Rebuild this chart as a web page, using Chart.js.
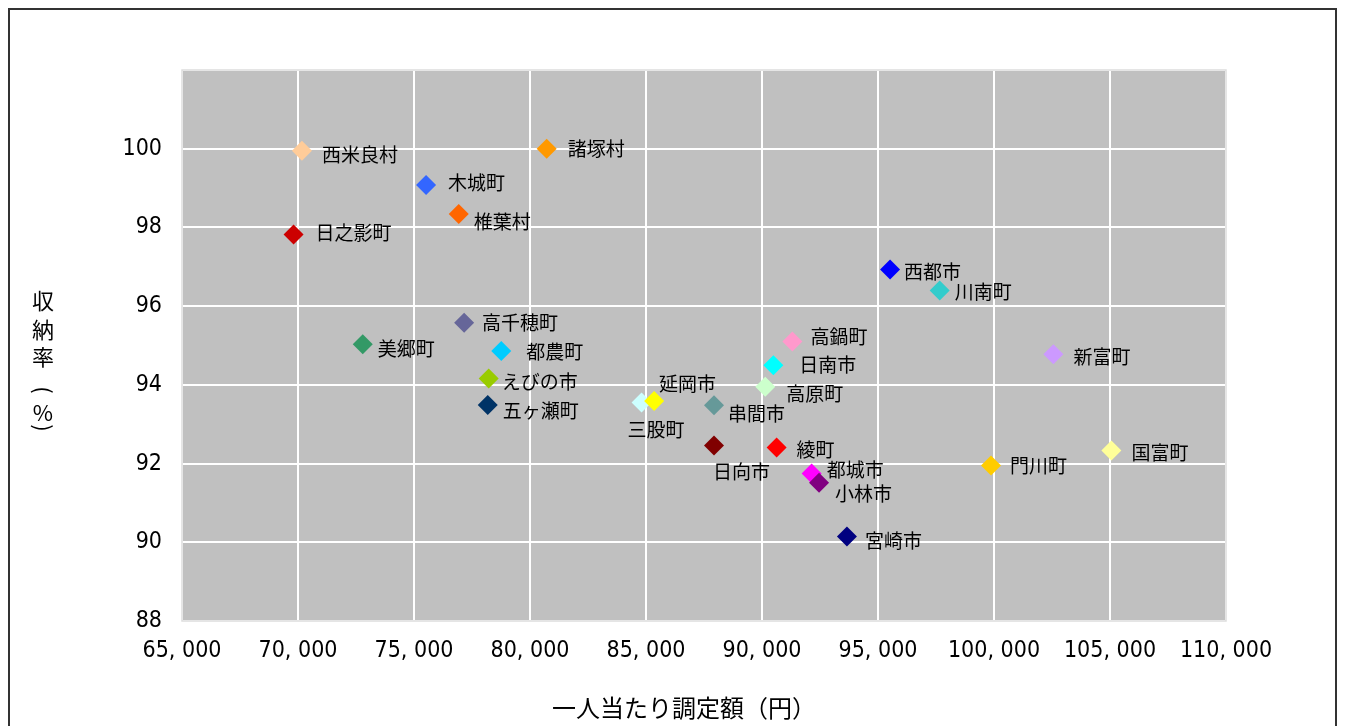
<!DOCTYPE html>
<html lang="ja">
<head>
<meta charset="utf-8">
<script src="https://cdn.jsdelivr.net/npm/chart.js@4.4.1/dist/chart.umd.min.js"></script>
<style>
    html, body { margin: 0; padding: 0; background: #fff; }
    #wrap { width: 1345px; height: 726px; }
</style>
</head>
<body>
<div id="wrap"><canvas id="scatter" width="1345" height="726"></canvas></div>
<script>
// Municipalities (Miyazaki prefecture)
const towns = ['西米良村', '諸塚村', '木城町', '椎葉村', '日之影町', '西都市', '川南町', '新富町', '国富町', '門川町',
    '高千穂町', '美郷町', '都農町', 'えびの市', '五ヶ瀬町', '高鍋町', '日南市', '高原町', '三股町', '延岡市',
    '串間市', '日向市', '綾町', '都城市', '小林市', '宮崎市'];

// 一人当たり調定額 (yen)
const amountPerPerson = [70170, 80720, 75520, 76930, 69810, 95520, 97660, 102560, 105060, 99870,
    77160, 72790, 78760, 78220, 78180, 91310, 90490, 90140, 84810, 85350,
    87930, 87930, 90630, 92140, 92460, 93660];

// 収納率 (%)
const collectionRate = [99.95, 100.0, 99.08, 98.34, 97.82, 96.93, 96.40, 94.78, 92.33, 91.95,
    95.58, 95.03, 94.86, 94.16, 93.49, 95.10, 94.50, 93.95, 93.55, 93.59,
    93.48, 92.46, 92.41, 91.75, 91.51, 90.15];

const xTicks = [65000, 70000, 75000, 80000, 85000, 90000, 95000, 100000, 105000, 110000];
const yTicks = [88, 90, 92, 94, 96, 98, 100];

// marker colours, one per town
const pointColors = ['#FFCC99', '#FF9900', '#3366FF', '#FF6600', '#CC0000', '#0000FF', '#33CCCC', '#CC99FF', '#FFFF99', '#FFCC00',
    '#666699', '#339966', '#00CCFF', '#99CC00', '#003366', '#FF99CC', '#00FFFF', '#CCFFCC', '#CCFFFF', '#FFFF00',
    '#669999', '#800000', '#FF0000', '#FF00FF', '#800080', '#000080'];

// where each label sits relative to its marker [dx, dy] in px
const labelOffsets = [[20, 4], [21, 0], [22, -2], [15, 8], [22, -2], [14, 2], [15, 1], [20, 3], [20, 2], [19, 0],
    [18, 0], [15, 4], [25, 1], [13, 3], [15, 6], [18, -5], [26, 0], [21, 7], [-14, 27], [5, -17],
    [14, 8], [-1, 26], [20, 2], [15, -4], [16, 11], [18, 4]];

const jpFont = "'Noto Sans CJK JP', 'Noto Sans', sans-serif";
const numFont = "'Liberation Sans Narrow', 'DejaVu Sans Condensed', 'Noto Sans CJK JP', sans-serif";

// grey plot area and outer frame
const frame = {
    id: 'frame',
    beforeDraw(chart) {
        const { ctx, chartArea: { left, top, width, height } } = chart;
        ctx.save();
        ctx.fillStyle = '#C0C0C0';
        ctx.fillRect(left, top, width, height);
        ctx.restore();
    },
    afterDraw(chart) {
        const { ctx, chartArea: { left, top, width, height } } = chart;
        ctx.save();
        ctx.strokeStyle = '#DDDDDD';
        ctx.lineWidth = 1.5;
        ctx.strokeRect(left, top, width, height);
        ctx.strokeStyle = '#333333';
        ctx.lineWidth = 2;
        ctx.strokeRect(9, 9, 1327, 740);
        ctx.restore();
    }
};

// town names next to the markers, plus both axis titles
const labels = {
    id: 'labels',
    afterDatasetsDraw(chart) {
        const { ctx } = chart;
        const meta = chart.getDatasetMeta(0);
        ctx.save();
        ctx.fillStyle = '#000';
        ctx.font = '19px ' + jpFont;
        ctx.textAlign = 'left';
        ctx.textBaseline = 'middle';
        meta.data.forEach((pt, i) => {
            const [dx, dy] = labelOffsets[i];
            ctx.fillText(towns[i], pt.x + dx, pt.y + dy);
        });

        // y title, written top to bottom, brackets turned sideways
        ctx.font = '22px ' + jpFont;
        ctx.textAlign = 'center';
        const yChars = ['収', '納', '率', '(', '%', ')'];
        const yPos = [301, 330, 357, 390, 413, 428];
        yChars.forEach((c, i) => {
            if (c === '(' || c === ')') {
                ctx.save();
                ctx.translate(43, yPos[i]);
                ctx.rotate(Math.PI / 2);
                ctx.fillText(c, 0, 0);
                ctx.restore();
            } else {
                ctx.fillText(c, 43, yPos[i]);
            }
        });

        // x title
        ctx.font = '24px ' + jpFont;
        ctx.fillText('一人当たり調定額（円）', 684, 708);
        ctx.restore();
    }
};

const ctx = document.getElementById('scatter').getContext('2d');
new Chart(ctx, {
    type: 'scatter',
    data: {
        datasets: [{
            label: '収納率',
            data: amountPerPerson.map((x, i) => ({ x: x, y: collectionRate[i] })),
            pointStyle: 'rectRot',
            pointRadius: 10,
            pointHoverRadius: 10,
            pointBackgroundColor: pointColors,
            pointBorderColor: pointColors,
            pointBorderWidth: 0,
        }]
    },
    options: {
        responsive: false,
        animation: false,
        devicePixelRatio: 1,
        layout: { padding: { top: 70, right: 119, left: 0, bottom: 0 } },
        plugins: {
            legend: { display: false },
            tooltip: { enabled: false },
        },
        scales: {
            x: {
                type: 'linear',
                min: 65000,
                max: 110000,
                afterBuildTicks: (scale) => { scale.ticks = xTicks.map(v => ({ value: v })); },
                afterFit: (scale) => { scale.height = 105; },
                ticks: {
                    padding: 16,
                    color: '#000',
                    font: { family: numFont, size: 23 },
                    maxRotation: 0,
                    autoSkip: false,
                    callback: (v) => v.toLocaleString('en-US').replace(',', ', '),
                },
                grid: { color: '#FFFFFF', lineWidth: 2, drawTicks: false },
                border: { display: false },
            },
            y: {
                type: 'linear',
                min: 88,
                max: 102,
                afterBuildTicks: (scale) => { scale.ticks = yTicks.concat([102]).map(v => ({ value: v })); },
                afterFit: (scale) => { scale.width = 182; },
                ticks: {
                    padding: 20,
                    color: '#000',
                    font: { family: numFont, size: 23 },
                    callback: (v) => (v > 100 ? '' : v),
                },
                grid: { color: '#FFFFFF', lineWidth: 2, drawTicks: false },
                border: { display: false },
            }
        }
    },
    plugins: [frame, labels]
});
</script>
</body>
</html>
